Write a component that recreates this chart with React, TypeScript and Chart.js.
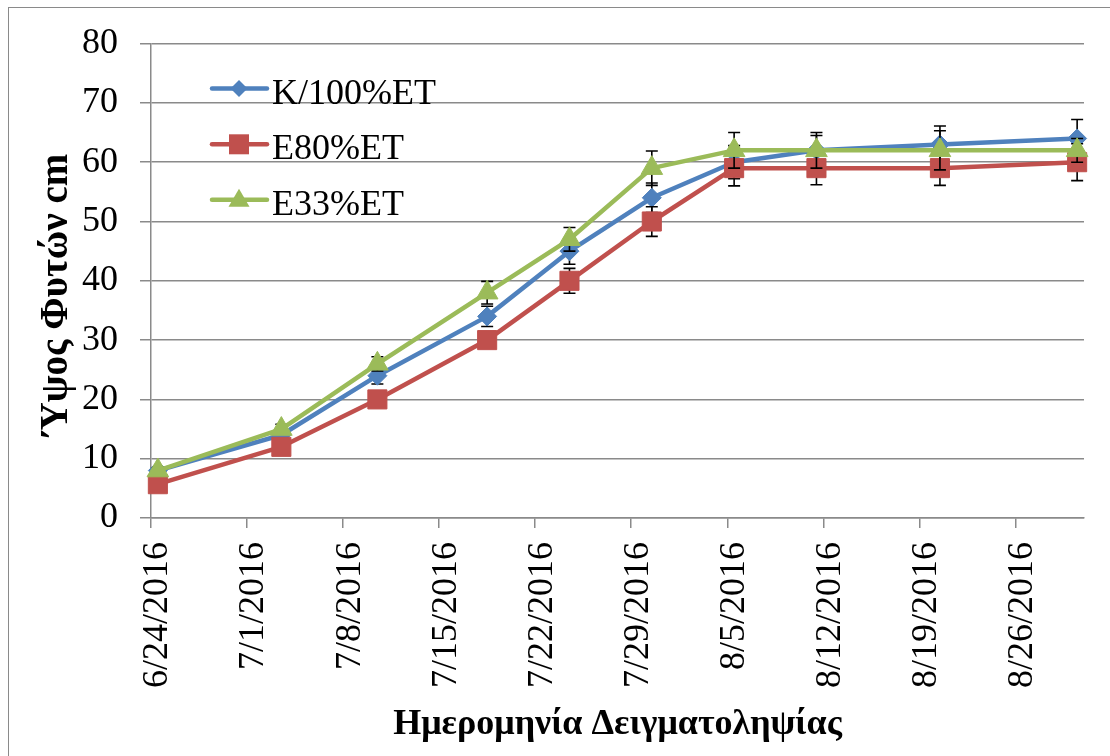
import React, { useEffect, useRef } from "react";
import { Chart, registerables } from "chart.js";

Chart.register(...registerables);

// Sampling days counted from 6/24/2016
const sampleDays = [0, 9, 16, 24, 30, 36, 42, 48, 57, 67];
const tickDays = [0, 7, 14, 21, 28, 35, 42, 49, 56, 63];
const tickLabels = [
  "6/24/2016", "7/1/2016", "7/8/2016", "7/15/2016", "7/22/2016",
  "7/29/2016", "8/5/2016", "8/12/2016", "8/19/2016", "8/26/2016",
];
const seriesNames = ["K/100%ET", "E80%ET", "E33%ET"];
const k100 = [8, 14, 24, 34, 45, 54, 60, 62, 63, 64];
const e80 = [5.7, 12, 20, 30, 40, 50, 59, 59, 59, 60];
const e33 = [8, 15, 26, 38, 47, 59, 62, 62, 62, 62];
const k100Err = [0.5, 0.8, 1.4, 1.7, 2.2, 2.5, 2.8, 2.5, 3.1, 3.2];
const e80Err = [0.5, 0.5, 0.8, 1.0, 2.1, 2.5, 3.0, 2.8, 2.9, 3.1];
const e33Err = [0.5, 0.8, 1.2, 1.9, 2.0, 2.9, 3.0, 3.0, 3.3, 2.0];
const yTitle = "Ύψος Φυτών cm";
const xTitle = "Ημερομηνία Δειγματοληψίας";

const BLUE = "#4F81BD";
const RED = "#C0504D";
const GREEN = "#9BBB59";
const GRID = "#8a8a8a";
const FONT = "'Liberation Serif', 'Times New Roman', serif";

const colors = [BLUE, RED, GREEN];
const errs = [k100Err, e80Err, e33Err];

const errorBarPlugin = {
  id: "errorBars",
  beforeDatasetDraw(chart: any, args: any) {
    const i = args.index;
    const ds = chart.data.datasets[i];
    const err = errs[i];
    const xs = chart.scales.x;
    const ys = chart.scales.y;
    const ctx = chart.ctx;
    ctx.save();
    ctx.strokeStyle = "#000";
    ctx.lineWidth = 1.6;
    ds.data.forEach((p: any, j: number) => {
      const e = err[j];
      if (!e) return;
      const px = xs.getPixelForValue(p.x);
      const top = ys.getPixelForValue(p.y + e);
      const bot = ys.getPixelForValue(p.y - e);
      ctx.beginPath();
      ctx.moveTo(px, top);
      ctx.lineTo(px, bot);
      ctx.moveTo(px - 6, top);
      ctx.lineTo(px + 6, top);
      ctx.moveTo(px - 6, bot);
      ctx.lineTo(px + 6, bot);
      ctx.stroke();
    });
    ctx.restore();
  },
};

function drawMarker(ctx: CanvasRenderingContext2D, kind: number, x: number, y: number) {
  ctx.beginPath();
  if (kind === 0) {
    const r = 8.5;
    ctx.moveTo(x - r, y);
    ctx.lineTo(x, y - r);
    ctx.lineTo(x + r, y);
    ctx.lineTo(x, y + r);
  } else if (kind === 1) {
    ctx.rect(x - 10, y - 10, 20, 20);
  } else {
    ctx.moveTo(x, y - 11);
    ctx.lineTo(x + 10.5, y + 7);
    ctx.lineTo(x - 10.5, y + 7);
  }
  ctx.closePath();
  ctx.fill();
}

const legendPlugin = {
  id: "insideLegend",
  afterDatasetsDraw(chart: any) {
    const ctx = chart.ctx;
    const { left, top } = chart.chartArea;
    const rows = [45, 100.7, 156.2];
    ctx.save();
    seriesNames.forEach((name, i) => {
      const y = top + rows[i];
      ctx.strokeStyle = colors[i];
      ctx.fillStyle = colors[i];
      ctx.lineWidth = 4.5;
      ctx.lineCap = "round";
      ctx.beginPath();
      ctx.moveTo(left + 61, y);
      ctx.lineTo(left + 116, y);
      ctx.stroke();
      drawMarker(ctx, i, left + 88, y);
      ctx.fillStyle = "#000";
      ctx.font = `36px ${FONT}`;
      ctx.textBaseline = "alphabetic";
      ctx.textAlign = "left";
      ctx.fillText(name, left + 121, y + 15);
    });
    ctx.restore();
  },
};

const yTitlePlugin = {
  id: "yTitle",
  afterDraw(chart: any) {
    const ctx = chart.ctx;
    const { top, bottom } = chart.chartArea;
    ctx.save();
    ctx.translate(67, (top + bottom) / 2 + 14);
    ctx.rotate(-Math.PI / 2);
    ctx.fillStyle = "#000";
    ctx.font = `bold 39px ${FONT}`;
    ctx.textAlign = "center";
    ctx.textBaseline = "alphabetic";
    ctx.fillText(yTitle, 0, 0);
    ctx.restore();
  },
};

const mkData = (vals: number[]) => vals.map((v, i) => ({ x: sampleDays[i] + 0.5, y: v }));

export default function App() {
  const ref = useRef<HTMLCanvasElement>(null);
  useEffect(() => {
    if (!ref.current) return;
    const chart = new Chart(ref.current, {
      type: "line",
      data: {
        datasets: [
          {
            label: seriesNames[0],
            data: mkData(k100),
            borderColor: BLUE,
            backgroundColor: BLUE,
            borderWidth: 4.5,
            pointStyle: "rectRot",
            pointRadius: 9.5,
            pointBorderWidth: 1,
            pointBackgroundColor: BLUE,
            pointBorderColor: BLUE,
            borderJoinStyle: "round",
            order: 3,
            clip: false,
          } as any,
          {
            label: seriesNames[1],
            data: mkData(e80),
            borderColor: RED,
            backgroundColor: RED,
            borderWidth: 4.5,
            pointStyle: "rect",
            pointRadius: 13.5,
            pointBorderWidth: 1,
            pointBackgroundColor: RED,
            pointBorderColor: RED,
            borderJoinStyle: "round",
            order: 2,
            clip: false,
          },
          {
            label: seriesNames[2],
            data: mkData(e33),
            borderColor: GREEN,
            backgroundColor: GREEN,
            borderWidth: 4.5,
            pointStyle: "triangle",
            pointRadius: 12.5,
            pointBorderWidth: 1,
            pointBackgroundColor: GREEN,
            pointBorderColor: GREEN,
            borderJoinStyle: "round",
            order: 1,
            clip: false,
          },
        ],
      },
      options: {
        responsive: false,
        animation: false,
        devicePixelRatio: 1,
        layout: { padding: { top: 38, right: 26, left: 0, bottom: 0 } },
        plugins: {
          legend: { display: false },
          tooltip: { enabled: false },
        },
        scales: {
          x: {
            type: "linear",
            min: 0,
            max: 68,
            afterBuildTicks: (scale: any) => {
              scale.ticks = tickDays.map((v) => ({ value: v }));
            },
            afterFit: (scale: any) => {
              scale.height = 238;
            },
            ticks: {
              autoSkip: false,
              minRotation: 90,
              maxRotation: 90,
              padding: 14,
              labelOffset: 7,
              color: "#000",
              font: { family: FONT, size: 36 },
              callback: (v: any) => {
                const idx = tickDays.indexOf(Number(v));
                return idx >= 0 ? tickLabels[idx] : "";
              },
            },
            grid: {
              display: true,
              drawOnChartArea: false,
              drawTicks: true,
              tickLength: 10,
              color: GRID,
              lineWidth: 1.5,
            },
            border: { display: true, color: GRID, width: 1.5 },
            title: {
              display: true,
              text: xTitle,
              color: "#000",
              font: { family: FONT, size: 36, weight: "bold" },
              padding: { top: 0, bottom: 10 },
            },
          },
          y: {
            type: "linear",
            min: 0,
            max: 80,
            afterFit: (scale: any) => {
              scale.width = 151;
            },
            ticks: {
              stepSize: 10,
              padding: 22,
              color: "#000",
              font: { family: FONT, size: 36 },
            },
            grid: {
              color: GRID,
              lineWidth: 1.5,
              drawTicks: true,
              tickLength: 11,
            },
            border: { display: true, color: GRID, width: 1.5 },
            title: { display: false },
          },
        },
      },
      plugins: [errorBarPlugin, legendPlugin, yTitlePlugin],
    } as any);
    return () => chart.destroy();
  }, []);

  return (
    <div
      style={{
        position: "fixed",
        left: 0,
        top: 0,
        width: 1110,
        height: 756,
        overflow: "hidden",
        background: "#fff",
      }}
    >
      <div
        style={{
          position: "absolute",
          left: 8,
          top: 7,
          width: 1130,
          height: 780,
          border: "1px solid #8a8a8a",
          boxSizing: "border-box",
        }}
      />
      <canvas
        ref={ref}
        width={1110}
        height={756}
        style={{ position: "absolute", left: 0, top: 0, width: 1110, height: 756 }}
      />
    </div>
  );
}
